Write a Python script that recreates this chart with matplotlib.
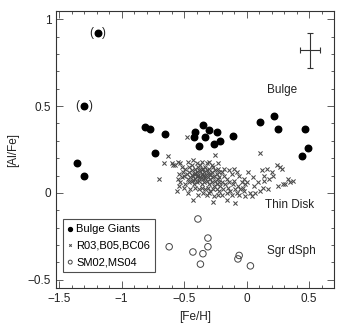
import matplotlib
matplotlib.use("Agg")
import matplotlib.pyplot as plt
from matplotlib.ticker import MultipleLocator

plt.rcParams['font.family'] = ['Liberation Sans', 'DejaVu Sans']

# bulge giants (filled)
giant_feh = [-1.36, -1.30, -0.81, -0.77, -0.65, -0.73, -0.41, -0.42, -0.35, -0.33,
             -0.30, -0.24, -0.26, -0.21, -0.38, -0.11, 0.11, 0.22, 0.25, 0.47, 0.44, 0.49]
giant_alfe = [0.17, 0.10, 0.38, 0.37, 0.34, 0.23, 0.35, 0.32, 0.39, 0.32,
              0.36, 0.35, 0.28, 0.30, 0.27, 0.33, 0.41, 0.44, 0.37, 0.37, 0.21, 0.26]
# the two uncertain giants, drawn in brackets
flag_feh = [-1.19, -1.30]
flag_alfe = [0.92, 0.50]

# Sgr dSph (open)
sgr_feh = [-0.39, -0.62, -0.43, -0.35, -0.37, -0.31, -0.31, -0.07, -0.06, 0.03]
sgr_alfe = [-0.15, -0.31, -0.34, -0.35, -0.41, -0.26, -0.31, -0.38, -0.36, -0.42]

# thin disk dwarfs (crosses)
disk_feh = [-0.48, -0.66, -0.63, -0.70, -0.60, -0.57, -0.55, -0.53, -0.59, -0.56, -0.54, -0.43,
            -0.25, -0.23, -0.30, 0.11, -0.27, -0.16, -0.09,
            0.20, 0.21, 0.24, 0.27, 0.28, 0.25, 0.17, 0.13, 0.14, 0.14, 0.06, 0.07, 0.03, -0.01,
            0.04, 0.11, 0.33, 0.35, 0.37, 0.31, 0.29, 0.16, 0.18, 0.12, 0.09, 0.00, -0.02, 0.01, 0.05,
            -0.20, -0.18, -0.16, -0.14, -0.12, -0.10, -0.08, -0.06, -0.04, -0.03, -0.05, -0.07,
            -0.09, -0.11, -0.13, -0.15, -0.17, -0.19, -0.21, -0.12, -0.02, -0.06, -0.14, -0.10,
            -0.18, -0.22, -0.20, -0.16, -0.08, -0.01,
            -0.47, -0.43, -0.40, -0.36, -0.32, -0.28,
            -0.52, -0.49, -0.46, -0.44, -0.41, -0.39, -0.37, -0.35, -0.33, -0.30, -0.27, -0.25, -0.23,
            -0.54, -0.51, -0.48, -0.46, -0.44, -0.42, -0.40, -0.38, -0.36, -0.34, -0.32, -0.30,
            -0.28, -0.26, -0.24, -0.22,
            -0.55, -0.52, -0.50, -0.47, -0.45, -0.43, -0.41, -0.39, -0.37, -0.35, -0.33, -0.31,
            -0.29, -0.27, -0.25, -0.23,
            -0.53, -0.49, -0.46, -0.44, -0.42, -0.40, -0.38, -0.36, -0.34, -0.32, -0.30, -0.28,
            -0.26, -0.24, -0.22,
            -0.50, -0.45, -0.41, -0.38, -0.36, -0.33, -0.31, -0.29, -0.27, -0.24, -0.22,
            -0.47, -0.39, -0.35, -0.32, -0.30, -0.26, -0.23, -0.20,
            -0.41, -0.39, -0.37, -0.35, -0.33, -0.43, -0.38, -0.36, -0.34, -0.40, -0.44, -0.31, -0.29]
disk_alfe = [0.32, 0.17, 0.21, 0.08, 0.17, 0.16, 0.18, 0.17, 0.16, 0.01, 0.04, -0.04,
             0.22, 0.17, 0.18, 0.23, -0.05, -0.04, -0.06,
             0.12, 0.10, 0.16, 0.15, 0.14, 0.04, 0.02, 0.03, 0.07, 0.10, 0.04, 0.00, 0.00, -0.02,
             -0.02, 0.01, 0.08, 0.06, 0.07, 0.05, 0.05, 0.14, 0.08, 0.13, 0.06, 0.06, 0.08, 0.12, 0.09,
             0.12, 0.10, 0.08, 0.13, 0.11, 0.07, 0.12, 0.10, 0.06, 0.03, 0.02, 0.04,
             0.02, 0.05, 0.01, 0.03, 0.05, 0.02, 0.04, -0.01, 0.01, -0.01, 0.06, 0.14,
             0.14, 0.09, 0.06, 0.00, 0.00, 0.05,
             0.18, 0.19, 0.17, 0.18, 0.17, 0.16,
             0.15, 0.14, 0.15, 0.16, 0.14, 0.15, 0.16, 0.14, 0.15, 0.14, 0.15, 0.13, 0.14,
             0.11, 0.12, 0.11, 0.12, 0.13, 0.11, 0.12, 0.13, 0.11, 0.12, 0.13, 0.11,
             0.12, 0.10, 0.11, 0.12,
             0.08, 0.09, 0.10, 0.08, 0.09, 0.10, 0.08, 0.10, 0.09, 0.08, 0.10, 0.09,
             0.08, 0.09, 0.07, 0.08,
             0.06, 0.05, 0.06, 0.07, 0.05, 0.06, 0.07, 0.05, 0.06, 0.07, 0.05, 0.06,
             0.04, 0.05, 0.06,
             0.03, 0.02, 0.03, 0.02, 0.03, 0.02, 0.03, 0.01, 0.02, 0.02, 0.01,
             0.00, -0.01, 0.00, -0.01, 0.00, -0.02, -0.01, -0.01,
             0.115, 0.105, 0.125, 0.095, 0.085, 0.075, 0.085, 0.135, 0.105, 0.095, 0.105, 0.115, 0.105]

fig = plt.figure(figsize=(3.64, 3.35), dpi=100)
ax = fig.add_axes([0.154, 0.140, 0.764, 0.827])

ink = '#222222'
h_disk = ax.scatter(disk_feh, disk_alfe, marker='x', s=9, linewidths=0.75, color='#4a4a4a',
                    label='R03,B05,BC06', zorder=2)
h_giant = ax.scatter(giant_feh + flag_feh, giant_alfe + flag_alfe, marker='o', s=22,
                     color='black', label='Bulge Giants', zorder=3)
h_sgr = ax.scatter(sgr_feh, sgr_alfe, marker='o', s=22, facecolors='none', edgecolors='#444444',
                   linewidths=0.7, label='SM02,MS04', zorder=3)

for fx, fy in zip(flag_feh, flag_alfe):
    ax.text(fx - 0.052, fy, '(', ha='center', va='center', fontsize=8.5, color=ink)
    ax.text(fx + 0.052, fy, ')', ha='center', va='center', fontsize=8.5, color=ink)

# typical error bar
ax.errorbar([0.51], [0.82], xerr=0.08, yerr=0.10, fmt='none', ecolor='#333333',
            elinewidth=0.8, capsize=2, capthick=0.8)

ax.text(0.28, 0.59, 'Bulge', ha='center', va='center', fontsize=8.5, color=ink)
ax.text(0.345, -0.068, 'Thin Disk', ha='center', va='center', fontsize=8.5, color=ink)
ax.text(0.36, -0.337, 'Sgr dSph', ha='center', va='center', fontsize=8.5, color=ink)

ax.set_xlim(-1.525, 0.7)
ax.set_ylim(-0.548, 1.047)
ax.xaxis.set_major_locator(MultipleLocator(0.5))
ax.xaxis.set_minor_locator(MultipleLocator(0.1))
ax.yaxis.set_major_locator(MultipleLocator(0.5))
ax.yaxis.set_minor_locator(MultipleLocator(0.1))
ax.tick_params(which='both', direction='in', top=True, right=True, colors='#444444',
               labelcolor=ink, labelsize=8.5, width=0.6)
ax.tick_params(which='major', length=5)
ax.tick_params(which='minor', length=2.5)
ax.xaxis.set_major_formatter(plt.FuncFormatter(lambda v, p: ('%g' % v).replace('-', '\u2212')))
ax.yaxis.set_major_formatter(plt.FuncFormatter(lambda v, p: ('%g' % v).replace('-', '\u2212')))
for s in ax.spines.values():
    s.set_linewidth(0.8)
    s.set_color('#333333')

ax.set_xlabel('[Fe/H]', fontsize=8.5, color=ink, labelpad=4)
ax.set_ylabel('[Al/Fe]', fontsize=8.5, color=ink, labelpad=6)

leg = ax.legend(handles=[h_giant, h_disk, h_sgr], loc='lower left',
                bbox_to_anchor=(0.025, 0.058), fontsize=8, frameon=True,
                fancybox=False, edgecolor='#222222', handlelength=0.4, handletextpad=0.35,
                borderpad=0.45, labelspacing=0.6, markerscale=0.6, borderaxespad=0,
                handleheight=0.7)
leg.get_frame().set_linewidth(0.8)

fig.savefig('out.png', dpi=100)
